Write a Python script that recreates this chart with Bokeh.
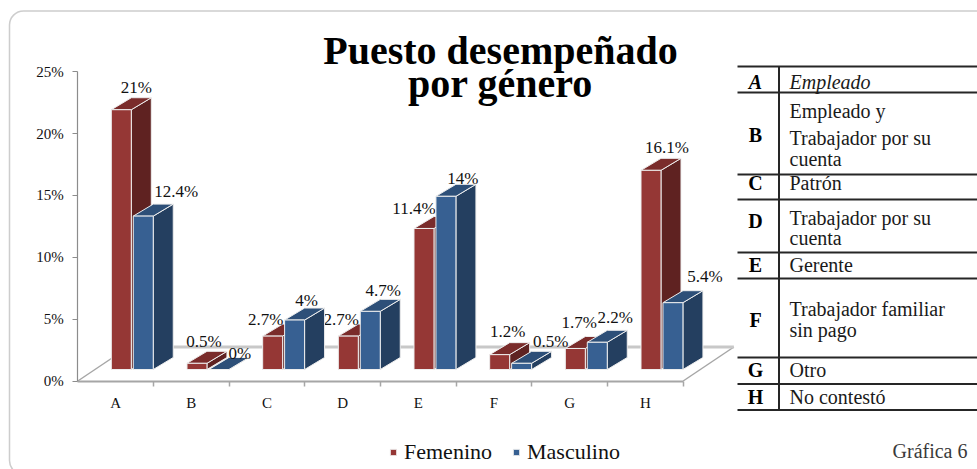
from bokeh.plotting import figure
from bokeh.models import (Range1d, LinearAxis, FixedTicker, PrintfTickFormatter,
                          Legend, LegendItem, BoxAnnotation)
from bokeh.core.properties import value
from bokeh.embed import file_html
from bokeh.resources import INLINE

# ---------------- data ----------------
categories = ["A", "B", "C", "D", "E", "F", "G", "H"]
femenino = [21, 0.5, 2.7, 2.7, 11.4, 1.2, 1.7, 16.1]
masculino = [12.4, 0, 4, 4.7, 14, 0.5, 2.2, 5.4]
series_names = ["Femenino", "Masculino"]
y_ticks = [0, 5, 10, 15, 20, 25]
title_lines = ["Puesto desempeñado", "por género"]
caption = "Gráfica 6"
table_codes = ["A", "B", "C", "D", "E", "F", "G", "H"]
table_texts = [
    ["Empleado"],
    ["Empleado y", "Trabajador por su", "cuenta"],
    ["Patrón"],
    ["Trabajador por su", "cuenta"],
    ["Gerente"],
    ["Trabajador familiar", "sin pago"],
    ["Otro"],
    ["No contestó"],
]

# ---------------- layout (pixels of the page) ----------------
W, H = 977, 469
PX0, CW = 77.3, 75.67      # page x of category axis origin, px per category
PY0, PPU = 380.5, 12.37    # page y of 0 %, px per percent


def X(px):
    return (px - PX0) / CW


def Y(py):
    return (PY0 - py) / PPU


SERIF = value("Liberation Serif")
n = len(categories)

# bar geometry (category units / percent units)
F_OFF, BAR_W, GAP = 0.443, 0.264, 0.026
M_OFF = F_OFF + BAR_W + GAP
DX, DY = 20 / CW, 12 / PPU
LIFT = 11.5 / PPU
FDX, FDY = 0.67, 34 / PPU   # floor depth

# label nudges (screen px)
lab_dx_f = [5, -3, -17, -17, -20, -2, -6, 6]
lab_dy_f = [0, 0, 5, 5, 2, -1, -4, -1]
lab_dx_m = [23, 11, 2, 3, 7, 19, 8, 22]
lab_dy_m = [-3, 6, 2, 1, 4, 0, -3, -4]

colors = {
    "f": ("#953735", "#7a2c2b", "#5f2221"),   # front, top, side
    "m": ("#376092", "#2d4f78", "#243f60"),
}

p = figure(width=W, height=H, output_backend="svg", toolbar_location=None,
           title=None, x_axis_location=None, y_axis_location=None,
           x_range=Range1d(X(0), X(W)), y_range=Range1d(Y(H), Y(0)),
           min_border=0, min_border_left=0, min_border_right=0,
           min_border_top=0, min_border_bottom=0)
p.outline_line_color = None
p.background_fill_color = "white"
p.border_fill_color = "white"
p.grid.visible = False

# rounded outer frame
p.add_layout(BoxAnnotation(left=X(9), right=X(1000), top=Y(10.5), bottom=Y(474),
                           fill_alpha=0, line_color="#595959", line_width=1.5,
                           border_radius=14, level="underlay"))

# floor of the 3D chart
p.segment(x0=[0, n, FDX], y0=[0, 0, FDY], x1=[FDX, n + FDX, n + FDX], y1=[FDY, FDY, FDY],
          line_color=["#a6a6a6", "#a6a6a6", "#c8c8c8"], line_width=[1.5, 1.5, 3])


def draw_series(vals, off, key, dxs, dys):
    front, topc, sidec = colors[key]
    l = [i + off for i in range(n)]
    r = [x + BAR_W for x in l]
    b = [LIFT] * n
    t = [v + LIFT for v in vals]
    side_xs = [[r[i], r[i] + DX, r[i] + DX, r[i]] for i in range(n)]
    side_ys = [[b[i], b[i] + DY, t[i] + DY, t[i]] for i in range(n)]
    top_xs = [[l[i], r[i], r[i] + DX, l[i] + DX] for i in range(n)]
    top_ys = [[t[i], t[i], t[i] + DY, t[i] + DY] for i in range(n)]
    p.patches(side_xs, side_ys, fill_color=sidec, line_color="#eeeeee", line_width=1)
    p.patches(top_xs, top_ys, fill_color=topc, line_color="#eeeeee", line_width=1)
    front_r = p.quad(left=l, right=r, bottom=b, top=t, fill_color=front,
                     line_color="#eeeeee", line_width=1)
    p.text(x=[l[i] + BAR_W / 2 + DX / 2 for i in range(n)],
           y=[t[i] + DY for i in range(n)],
           text=[f"{v:g}%" for v in vals],
           x_offset=dxs, y_offset=[-10 + d for d in dys],
           text_font=SERIF, text_font_size="17px", text_color="#111111",
           text_align="center", text_baseline="middle")
    return front_r


rf = draw_series(femenino, F_OFF, "f", lab_dx_f, lab_dy_f)
rm = draw_series(masculino, M_OFF, "m", lab_dx_m, lab_dy_m)

# axes
yax = LinearAxis(fixed_location=0, bounds=(0, 25),
                 ticker=FixedTicker(ticks=y_ticks, minor_ticks=[]),
                 formatter=PrintfTickFormatter(format="%d%%"))
yax.axis_line_color = "#8c8c8c"
yax.axis_line_width = 1.2
yax.major_tick_line_color = "#8c8c8c"
yax.major_tick_out = 5
yax.major_tick_in = 0
yax.major_label_standoff = 9
yax.major_label_text_font = "Liberation Serif"
yax.major_label_text_font_size = "15px"
yax.major_label_text_color = "#111111"
p.add_layout(yax, "left")

xax = LinearAxis(fixed_location=0, bounds=(0, n),
                 ticker=FixedTicker(ticks=[i + 0.5 for i in range(n)],
                                    minor_ticks=[i for i in range(1, n + 1)]))
xax.major_label_overrides = {i + 0.5: c for i, c in enumerate(categories)}
xax.axis_line_color = "#a6a6a6"
xax.axis_line_width = 2
xax.major_tick_line_color = None
xax.major_tick_out = 0
xax.major_tick_in = 0
xax.minor_tick_line_color = "#a6a6a6"
xax.minor_tick_line_width = 1.5
xax.minor_tick_out = 5
xax.minor_tick_in = 0
xax.major_label_standoff = 9
xax.major_label_text_font = "Liberation Serif"
xax.major_label_text_font_size = "15px"
xax.major_label_text_color = "#111111"
p.add_layout(xax, "below")

# title (y = vertical middle of each line)
p.text(x=[X(500), X(500)], y=[Y(50), Y(83)], text=title_lines,
       text_font=SERIF, text_font_size="40px", text_font_style="bold",
       text_color="#000000", text_align="center", text_baseline="middle")

# table on the right
MID = 6.8  # baseline -> middle offset for 20px text
h_lines = [66, 92, 174, 199, 252, 278, 357, 383.5, 409.5]
p.segment(x0=[X(737)] * len(h_lines), x1=[X(990)] * len(h_lines),
          y0=[Y(v) for v in h_lines], y1=[Y(v) for v in h_lines],
          line_color="#262626", line_width=2)
p.segment(x0=[X(778.5)], x1=[X(778.5)], y0=[Y(66)], y1=[Y(409.5)],
          line_color="#262626", line_width=2)
code_base = [88.3, 141, 189.7, 227, 271.7, 326.7, 376.7, 403.3]
line_base = [[88.3], [117.3, 144.7, 165.3], [189.7], [224.7, 244.7], [271.7],
             [315, 336.7], [376.7], [403.3]]
p.text(x=[X(755)], y=[Y(code_base[0] - MID)], text=[table_codes[0]], text_font=SERIF,
       text_font_size="20px", text_font_style="bold italic", text_color="#000000",
       text_align="center", text_baseline="middle")
p.text(x=[X(755)] * (n - 1), y=[Y(v - MID) for v in code_base[1:]], text=table_codes[1:],
       text_font=SERIF, text_font_size="20px", text_font_style="bold",
       text_color="#000000", text_align="center", text_baseline="middle")
p.text(x=[X(789)], y=[Y(line_base[0][0] - MID)], text=[table_texts[0][0]], text_font=SERIF,
       text_font_size="20px", text_font_style="italic", text_color="#1a1a1a",
       text_align="left", text_baseline="middle")
dx_, dy_, dt_ = [], [], []
for lines, bases in zip(table_texts[1:], line_base[1:]):
    for s, bpos in zip(lines, bases):
        dx_.append(X(789))
        dy_.append(Y(bpos - MID))
        dt_.append(s)
p.text(x=dx_, y=dy_, text=dt_, text_font=SERIF, text_font_size="20px",
       text_color="#1a1a1a", text_align="left", text_baseline="middle")

# caption
p.text(x=[X(967)], y=[Y(457 - MID)], text=[caption], text_font=SERIF, text_font_size="20px",
       text_color="#3a3a3a", text_align="right", text_baseline="middle")

# legend
legend = Legend(items=[LegendItem(label=series_names[0], renderers=[rf]),
                       LegendItem(label=series_names[1], renderers=[rm])],
                location=(389, 4), orientation="horizontal",
                glyph_width=8, glyph_height=8, label_standoff=7, spacing=20,
                padding=0, margin=0, label_height=26,
                label_text_font="Liberation Serif", label_text_font_size="22px",
                label_text_color="#111111", border_line_color=None,
                background_fill_alpha=0)
p.add_layout(legend)

open("out.html", "w").write(file_html(p, INLINE))
